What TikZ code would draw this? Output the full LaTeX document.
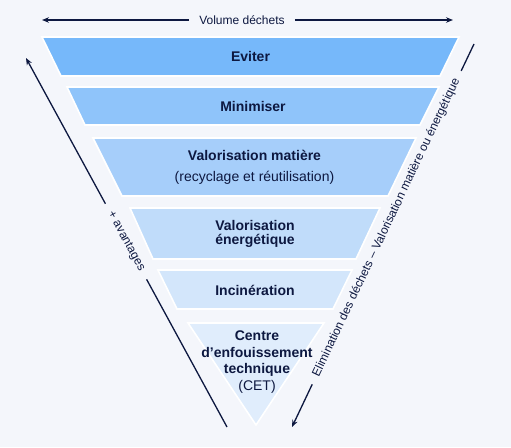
\documentclass[tikz,border=0pt]{standalone}
\usepackage{fontspec}
\setmainfont{Liberation Sans}
\usetikzlibrary{arrows.meta}
\definecolor{BleuNuit}{RGB}{13,24,64}
\definecolor{Fond}{RGB}{244,246,251}
\definecolor{BleuA}{RGB}{118,184,250}
\definecolor{BleuB}{RGB}{143,196,250}
\definecolor{BleuC}{RGB}{166,206,250}
\definecolor{BleuD}{RGB}{192,220,250}
\definecolor{BleuE}{RGB}{211,230,251}
\definecolor{BleuF}{RGB}{224,237,252}
\tikzset{
  couche/.style={draw=white, line width=1.6pt, line join=miter, fill=#1},
  couchetxt/.style={text=BleuNuit, align=center, inner sep=0pt,
    font=\fontsize{14}{#1}\selectfont\bfseries},
  couchetxt/.default=16,
  flechearr/.style={-{Stealth[length=7pt, width=5.5pt]}, line width=1.3pt, BleuNuit},
  lignearr/.style={line width=1.3pt, BleuNuit},
  sidetxt/.style={text=BleuNuit, font=\fontsize{12}{14}\selectfont,
    inner xsep=#1, inner ysep=1pt},
  sidetxt/.default=9pt,
}

\begin{document}
\begin{tikzpicture}[x=1pt, y=-1pt]
  \fill[Fond] (0,0) rectangle (511,447);
  \useasboundingbox (0,0) rectangle (511,447);
  % ---- couches de la pyramide ----
  \filldraw[couche=BleuA] (42,37) -- (459,37) -- (440,76) -- (61,76) -- cycle;
  \filldraw[couche=BleuB] (67,87) -- (439,87) -- (420,125) -- (85,125) -- cycle;
  \filldraw[couche=BleuC] (93,138) -- (416,138) -- (388,196) -- (122,196) -- cycle;
  \filldraw[couche=BleuD] (130,208) -- (380,208) -- (356,259) -- (153,259) -- cycle;
  \filldraw[couche=BleuE] (158,270) -- (352,270) -- (333,309) -- (177,309) -- cycle;
  \filldraw[couche=BleuF] (188,323) -- (324,323) -- (256,425) -- cycle;
  \node[couchetxt] (eviter) at (250.5,56.5) {Eviter};
  \node[couchetxt] (minimiser) at (253,106) {Minimiser};
  \node[couchetxt] (matiere) at (254.5,167.5) {Valorisation matière\\[5pt]
    {\mdseries (recyclage et réutilisation)}};
  \node[couchetxt=13.5] (energie) at (255,234) {Valorisation\\énergétique};
  \node[couchetxt] (incineration) at (255,290) {Incinération};
  \node[couchetxt=16.5] (cet) at (257,362) {Centre\\d’enfouissement\\technique\\
    {\mdseries (CET)}};
  % ---- fleches ----
  \node[sidetxt=10pt] (volume) at (242,20) {Volume déchets};
  \coordinate (volG) at (42,20);
  \coordinate (volD) at (453,20);
  \draw[flechearr] (volume) -- (volG);
  \draw[flechearr] (volume) -- (volD);
  \node[sidetxt=10pt, rotate=-61.4] (avantages) at (126,241.5) {+ avantages};
  \coordinate (avBas) at (227,427);
  \coordinate (avHaut) at (26,58);
  \draw[lignearr] (avBas) -- (avantages);
  \draw[flechearr] (avantages) -- (avHaut);
  \node[sidetxt, rotate=64.6] (elimination) at (386.5,227.5)
    {Elimination des déchets – Valorisation matière ou énergétique};
  \coordinate (elHaut) at (474,44);
  \coordinate (elBas) at (292,427);
  \draw[lignearr] (elHaut) -- (elimination);
  \draw[flechearr] (elimination) -- (elBas);
\end{tikzpicture}
\end{document}
